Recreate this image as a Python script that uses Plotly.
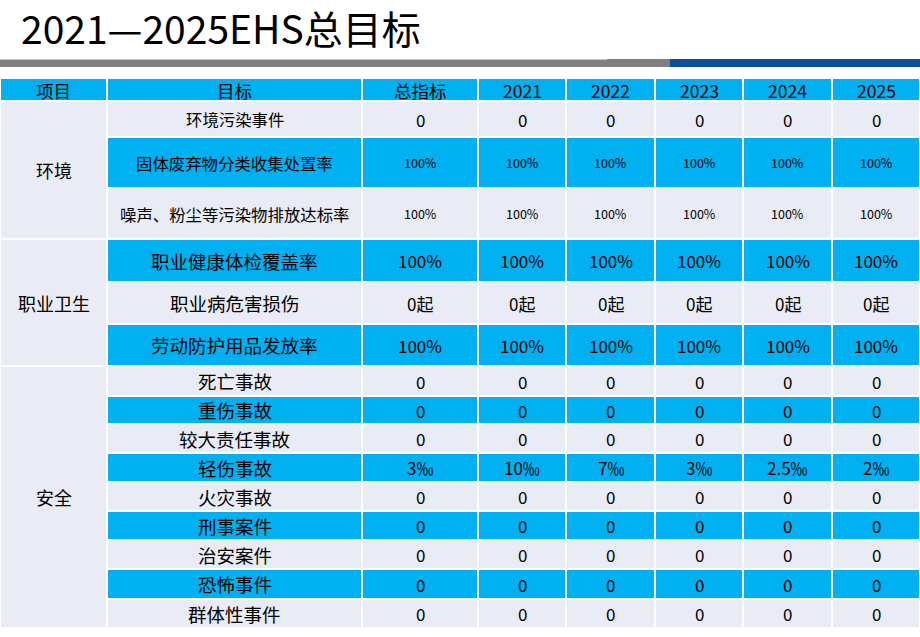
import plotly.graph_objects as go

# ---- data ----
title = "2021—2025EHS总目标"
headers = ["项目", "目标", "总指标", "2021", "2022", "2023", "2024", "2025"]
groups = ["环境", "职业卫生", "安全"]
group_rows = [3, 3, 9]
targets = [
    "环境污染事件", "固体废弃物分类收集处置率", "噪声、粉尘等污染物排放达标率",
    "职业健康体检覆盖率", "职业病危害损伤", "劳动防护用品发放率",
    "死亡事故", "重伤事故", "较大责任事故", "轻伤事故", "火灾事故",
    "刑事案件", "治安案件", "恐怖事件", "群体性事件",
]
total = ["0", "100%", "100%", "100%", "0起", "100%",
         "0", "0", "0", "3‰", "0", "0", "0", "0", "0"]
y2021 = ["0", "100%", "100%", "100%", "0起", "100%",
         "0", "0", "0", "10‰", "0", "0", "0", "0", "0"]
y2022 = ["0", "100%", "100%", "100%", "0起", "100%",
         "0", "0", "0", "7‰", "0", "0", "0", "0", "0"]
y2023 = ["0", "100%", "100%", "100%", "0起", "100%",
         "0", "0", "0", "3‰", "0", "0", "0", "0", "0"]
y2024 = ["0", "100%", "100%", "100%", "0起", "100%",
         "0", "0", "0", "2.5‰", "0", "0", "0", "0", "0"]
y2025 = ["0", "100%", "100%", "100%", "0起", "100%",
         "0", "0", "0", "2‰", "0", "0", "0", "0", "0"]

# ---- layout constants ----
W, H = 920, 637
col_edges = [0, 107, 362, 478, 566, 655, 743, 832, 920]
header_top, header_bot = 78, 101
row_edges = [101, 137, 188, 239, 282, 324, 366, 396, 424, 453, 482,
             511, 540, 569, 599, 628]
CYAN = "#00B0F0"
LIGHT = "#E9ECF5"
FONT = "Noto Sans CJK SC"
small_rows = {1, 2}

fig = go.Figure()
shapes = []
annotations = []


def cell(x0, x1, y0, y1, color):
    shapes.append(dict(type="rect", xref="x", yref="y",
                       x0=x0 + 1, x1=x1 - 1, y0=y0 + 1, y1=y1 - 1,
                       fillcolor=color, line=dict(width=0), layer="below"))


def label(x0, x1, y0, y1, text, size):
    annotations.append(dict(x=(x0 + x1) / 2, y=(y0 + y1) / 2, xref="x", yref="y",
                            text=text, showarrow=False, xanchor="center",
                            yanchor="middle",
                            font=dict(family=FONT, size=size, color="#000000")))


# header
for j, h in enumerate(headers):
    x0, x1 = col_edges[j], col_edges[j + 1]
    cell(x0, x1, header_top, header_bot, CYAN)
    label(x0, x1, header_top, header_bot + 1, h, 17.5)

# group column
r = 0
for g, n in zip(groups, group_rows):
    y0, y1 = row_edges[r], row_edges[r + n]
    cell(col_edges[0], col_edges[1], y0, y1, LIGHT)
    label(col_edges[0], col_edges[1], y0, y1, g, 18)
    r += n

# body
value_cols = [total, y2021, y2022, y2023, y2024, y2025]
for i, t in enumerate(targets):
    y0, y1 = row_edges[i], row_edges[i + 1]
    color = LIGHT if i % 2 == 0 else CYAN
    tsize = 16.4 if i < 3 else 18.5
    vsize = 12.5 if i in small_rows else 17
    cell(col_edges[1], col_edges[2], y0, y1, color)
    label(col_edges[1], col_edges[2], y0, y1, t, tsize)
    for j, vals in enumerate(value_cols):
        x0, x1 = col_edges[j + 2], col_edges[j + 3]
        cell(x0, x1, y0, y1, color)
        label(x0, x1, y0, y1, vals[i], vsize)

# title bar
shapes.append(dict(type="rect", xref="x", yref="y", x0=0, x1=670, y0=59, y1=67,
                   fillcolor="#808080", line=dict(width=0)))
shapes.append(dict(type="rect", xref="x", yref="y", x0=0, x1=607, y0=59, y1=60,
                   fillcolor="#C8C8C8", line=dict(width=0)))
shapes.append(dict(type="rect", xref="x", yref="y", x0=670, x1=920, y0=59, y1=67,
                   fillcolor="#0B4EA2", line=dict(width=0)))

annotations.append(dict(x=19, y=27, xref="x", yref="y", text=title, showarrow=False,
                        xanchor="left", yanchor="middle",
                        font=dict(family=FONT, size=39, color="#000000")))

fig.add_trace(go.Scatter(x=[0, W], y=[0, H], mode="markers",
                         marker=dict(opacity=0), hoverinfo="skip", showlegend=False))
fig.update_layout(
    width=W, height=H, margin=dict(l=0, r=0, t=0, b=0),
    paper_bgcolor="white", plot_bgcolor="white",
    shapes=shapes, annotations=annotations, showlegend=False,
    xaxis=dict(range=[0, W], visible=False, fixedrange=True),
    yaxis=dict(range=[H, 0], visible=False, fixedrange=True),
)
fig.write_html("out.html", post_script="document.body.style.margin='0';",
               config={"displayModeBar": False})
